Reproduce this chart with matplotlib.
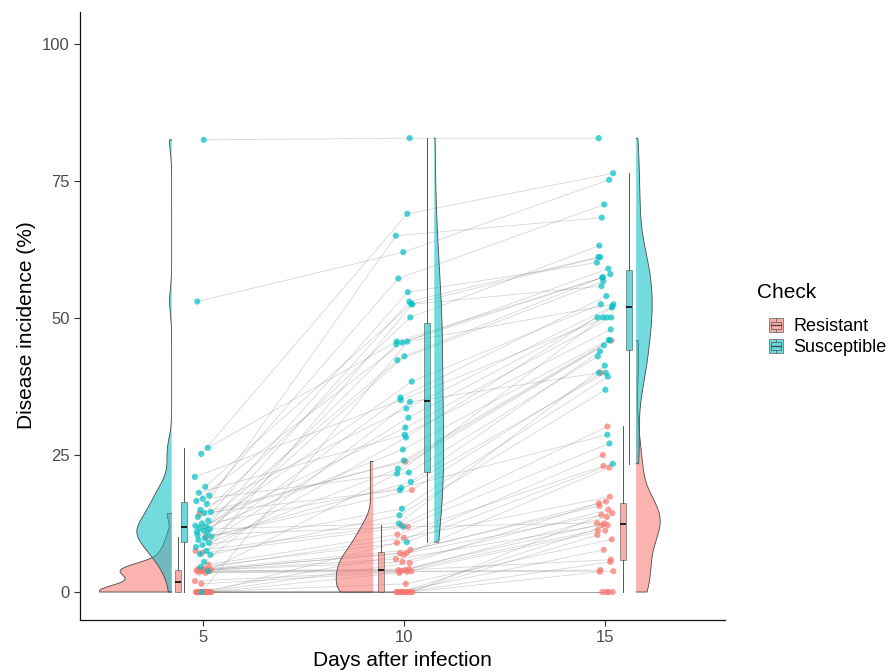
import numpy as np
import matplotlib
matplotlib.use('Agg')
import matplotlib.pyplot as plt
from matplotlib.patches import Patch, Rectangle
from matplotlib.lines import Line2D
from matplotlib.legend_handler import HandlerBase

plt.rcParams['font.family'] = ['Liberation Sans', 'DejaVu Sans']

days = [5, 10, 15]
groups = ['Resistant', 'Susceptible']

# disease incidence (%) per genotype, paired across days
sus_d5 = [82.5, 53.0, 26.3, 25.2, 21.0, 19.2, 18.1, 17.6, 17.0, 16.6, 16.1, 15.0, 14.6, 14.4, 13.7, 13.0, 12.5, 12.1, 11.9,
          11.7, 11.5, 11.2, 11.0, 10.8, 4.6, 10.1, 9.8, 9.5, 9.0, 8.6, 8.2, 7.5, 6.9, 6.8, 5.5, 10.4, 3.8, 0.0]
sus_d10 = [82.8, 62.0, 45.7, 69.0, 35.0, 52.5, 28.7, 57.2, 21.8, 45.5, 65.0, 33.5, 18.6, 50.1, 24.0, 42.3, 54.7, 19.0, 38.4,
           30.0, 12.5, 53.0, 26.0, 45.2, 9.1, 35.5, 20.1, 43.0, 22.5, 31.8, 15.2, 52.5, 28.2, 14.0, 34.7, 11.9, 21.6, 45.7]
sus_d15 = [82.8, 75.2, 57.4, 76.4, 50.1, 61.1, 47.9, 70.7, 43.0, 59.0, 68.3, 52.1, 40.0, 63.2, 45.9, 56.7, 60.1, 28.7, 52.5,
           50.1, 41.3, 61.1, 46.0, 57.4, 23.4, 54.0, 43.9, 58.0, 45.0, 50.1, 39.3, 55.8, 51.9, 36.9, 40.0, 27.1, 50.1, 52.5]

res_d5 = [0, 0, 0, 0, 0, 0, 0, 0, 0, 0, 0, 0, 0, 0, 0, 1.5, 2.0, 3.5, 3.6, 3.8, 3.8, 3.9, 4.0, 4.0, 4.1, 4.2, 4.2, 5.0,
          7.1, 7.5, 10.0, 14.3]
res_d10 = [0, 0, 0, 0, 0, 0, 0, 0, 0, 0, 1.5, 3.5, 5.3, 6.8, 9.0, 3.7, 3.8, 3.8, 4.0, 4.0, 4.2, 5.5, 6.0, 7.1, 7.1, 7.7,
           9.9, 10.5, 11.9, 12.2, 18.6, 23.8]
res_d15 = [0, 0, 0, 0, 3.7, 5.5, 7.7, 10.4, 12.2, 14.1, 9.6, 11.2, 16.2, 22.7, 25.0, 3.8, 13.7, 4.0, 5.9, 12.5, 11.3, 15.0,
           12.2, 14.4, 16.5, 15.7, 17.4, 23.0, 12.6, 30.2, 40.0, 45.9]

data = {
  'Resistant': [res_d5, res_d10, res_d15],
  'Susceptible': [sus_d5, sus_d10, sus_d15],
}
colors = {'Resistant': '#F8766D', 'Susceptible': '#00BFC4'}

# (violin flat side, direction, box position) for each group/day
layout = {
  ('Resistant', 5): (4.22, -1, 4.38),
  ('Susceptible', 5): (4.22, -1, 4.53),
  ('Resistant', 10): (9.23, -1, 9.42),
  ('Susceptible', 10): (10.75, 1, 10.57),
  ('Resistant', 15): (15.77, 1, 15.45),
  ('Susceptible', 15): (15.77, 1, 15.60),
}


def kde( values, grid ):
  v = np.asarray( values, float )
  n = len( v )
  q75, q25 = np.percentile( v, [ 75, 25 ] )
  lo = min( v.std( ddof=1 ), ( q75 - q25 ) / 1.34 )
  if lo <= 0:
    lo = v.std( ddof=1 )
  bw = 0.9 * lo * n ** -0.2
  z = ( grid[ :, None ] - v[ None, : ] ) / bw
  return np.exp( -0.5 * z ** 2 ).sum( 1 ) / ( n * bw * np.sqrt( 2 * np.pi ) )


def jitter( n, phase ):
  return ( ( np.arange( n ) * 0.618034 + phase ) % 1 - 0.5 ) * 0.42


class BoxKey( HandlerBase ):
  def create_artists( self, legend, orig, xd, yd, w, h, fontsize, trans ):
    fc = orig.get_facecolor()
    x0, y0 = -xd, -yd
    bg = Rectangle( ( x0, y0 ), w, h, facecolor=fc, edgecolor='#777777', lw=0.6, transform=trans )
    box = Rectangle( ( x0 + 0.12 * w, y0 + 0.25 * h ), 0.76 * w, 0.5 * h, facecolor='none', edgecolor='#666666', lw=0.6, transform=trans )
    mid = Line2D( [ x0 + 0.12 * w, x0 + 0.88 * w ], [ y0 + h / 2 ] * 2, color='#444444', lw=0.9, transform=trans )
    wl = Line2D( [ x0 + w / 2 ] * 2, [ y0, y0 + 0.25 * h ], color='#666666', lw=0.6, transform=trans )
    wh = Line2D( [ x0 + w / 2 ] * 2, [ y0 + 0.75 * h, y0 + h ], color='#666666', lw=0.6, transform=trans )
    return [ bg, box, mid, wl, wh ]


fig = plt.figure( figsize=( 8.9, 6.72 ), dpi=100 )
ax = fig.add_axes( [ 0.0899, 0.0774, 0.8146 - 0.0899, 0.982 - 0.0774 ] )

# common scale for all half violins (area scaling)
grids = {}
dens = {}
for g in groups:
  for i, d in enumerate( days ):
    v = data[ g ][ i ]
    y = np.linspace( min( v ), max( v ), 300 )
    grids[ ( g, d ) ] = y
    dens[ ( g, d ) ] = kde( v, y )
k = 1.8 / max( dd.max() for dd in dens.values() )

# paired lines + points
for gi, g in enumerate( groups ):
  vals = data[ g ]
  n = len( vals[ 0 ] )
  xs = [ d + jitter( n, 0.13 + 0.29 * i + 0.41 * gi ) for i, d in enumerate( days ) ]
  for j in range( n ):
    ax.plot( [ xs[ 0 ][ j ], xs[ 1 ][ j ], xs[ 2 ][ j ] ], [ vals[ 0 ][ j ], vals[ 1 ][ j ], vals[ 2 ][ j ] ],
             color='#808080', alpha=0.32, lw=0.6, zorder=1 )
for g in groups:
  vals = data[ g ]
  n = len( vals[ 0 ] )
  gi = groups.index( g )
  for i, d in enumerate( days ):
    x = d + jitter( n, 0.13 + 0.29 * i + 0.41 * gi )
    ax.scatter( x, vals[ i ], s=20, color=colors[ g ], alpha=0.7, edgecolors='none', zorder=3 )

# half violins
for g in groups:
  for d in days:
    flat, side, _ = layout[ ( g, d ) ]
    y = grids[ ( g, d ) ]
    w = dens[ ( g, d ) ] * k
    px = np.r_[ flat, flat + side * w, flat ]
    py = np.r_[ y[ 0 ], y, y[ -1 ] ]
    ax.fill( px, py, facecolor=colors[ g ], alpha=0.55, edgecolor='none', zorder=2 )
    ax.plot( px, py, color='#4a4a4a', lw=0.6, zorder=2 )

# boxplots
for g in groups:
  for i, d in enumerate( days ):
    pos = layout[ ( g, d ) ][ 2 ]
    ax.boxplot( [ data[ g ][ i ] ], positions=[ pos ], widths=0.14, patch_artist=True, showfliers=False,
                showcaps=False, manage_ticks=False, zorder=4,
                boxprops=dict( facecolor=colors[ g ], alpha=0.6, edgecolor='#555555', lw=0.7 ),
                whiskerprops=dict( color='#555555', lw=0.7 ),
                medianprops=dict( color='#111111', lw=1.3 ) )

ax.set_xlim( 1.94, 17.98 )
ax.set_ylim( -5.1, 105.8 )
ax.set_xticks( days )
ax.set_yticks( [ 0, 25, 50, 75, 100 ] )
ax.tick_params( axis='both', labelsize=12, labelcolor='#4D4D4D', color='#333333', length=4, width=0.8 )
for s in [ 'top', 'right' ]:
  ax.spines[ s ].set_visible( False )
for s in [ 'left', 'bottom' ]:
  ax.spines[ s ].set_linewidth( 0.9 )
  ax.spines[ s ].set_color( '#111111' )

ax.set_xlabel( 'Days after infection', fontsize=15 )
ax.set_ylabel( 'Disease incidence (%)', fontsize=15 )
ax.yaxis.set_label_coords( -0.068, 0.485 )

# legend
fig.text( 757 / 890, 1 - 292 / 672, 'Check', fontsize=15, ha='left', va='center' )
handles = [ Patch( facecolor=colors[ g ], alpha=0.6 ) for g in groups ]
leg = fig.legend( handles, groups, handler_map={ Patch: BoxKey() }, loc='upper left',
                  bbox_to_anchor=( 769 / 890, 1 - 318 / 672 ), frameon=False,
                  fontsize=13, handlelength=0.75, handleheight=0.85,
                  handletextpad=0.6, labelspacing=0.18, borderaxespad=0, borderpad=0 )

fig.savefig( 'out.png', dpi=100, facecolor='white' )
